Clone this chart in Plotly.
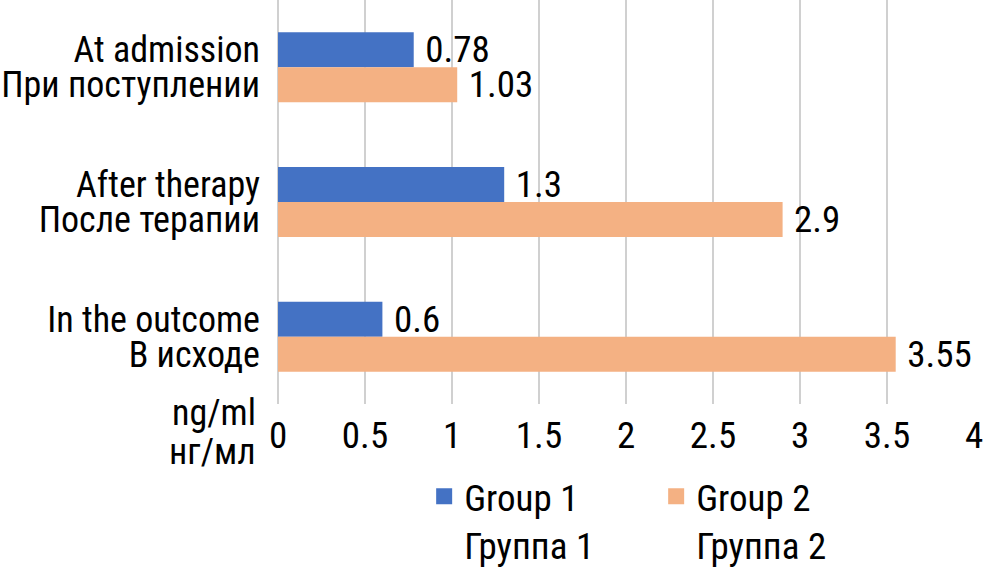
import plotly.graph_objects as go

categories_en = ["At admission", "After therapy", "In the outcome"]
categories_ru = ["При поступлении", "После терапии", "В исходе"]
group1_values = [0.78, 1.3, 0.6]
group2_values = [1.03, 2.9, 3.55]
series_names = ["Group 1<br>Группа 1", "Group 2<br>Группа 2"]
x_ticks = [0, 0.5, 1, 1.5, 2, 2.5, 3, 3.5, 4]
unit_label = ["ng/ml", "нг/мл"]

FONT = "Roboto Condensed, Roboto, sans-serif"
FS = 37
FS_CAT = 36
BARGAP = 0.48
BLUE = "#4472C4"
ORANGE = "#F4B183"

idx = list(range(len(categories_en)))
half = (1 - BARGAP) / 4  # centre offset of each bar within the group

fig = go.Figure()
for name, vals, col in [(series_names[0], group1_values, BLUE),
                        (series_names[1], group2_values, ORANGE)]:
    fig.add_trace(go.Bar(
        x=vals, y=idx, orientation="h", name=name, showlegend=False,
        marker=dict(color=col, line=dict(width=0)),
        text=vals, texttemplate="\u00a0%{x}", textposition="outside",
        textfont=dict(size=FS, color="black", family=FONT),
        constraintext="none", cliponaxis=False,
    ))
    # legend entry with a larger square swatch
    fig.add_trace(go.Scatter(
        x=[None], y=[None], mode="markers", name=name, showlegend=True,
        marker=dict(symbol="square", size=22, color=col, line=dict(width=0)),
        hoverinfo="skip",
    ))

tickvals = [i - half for i in idx] + [i + half for i in idx]
ticktext = categories_en + categories_ru

fig.update_layout(
    width=985, height=570,
    margin=dict(l=278, r=11, t=0, b=166, autoexpand=False),
    paper_bgcolor="white", plot_bgcolor="white",
    font=dict(family=FONT, size=FS, color="black"),
    barmode="group", bargap=BARGAP, bargroupgap=0,
    xaxis=dict(range=[0, 4], tickvals=x_ticks, showgrid=True,
               gridcolor="#D0D0D0", gridwidth=2, zeroline=True,
               zerolinecolor="#D0D0D0", zerolinewidth=2,
               showline=False, ticks="", tickfont=dict(size=FS),
               ticklabelstandoff=6, automargin=False),
    yaxis=dict(range=[len(idx) - 0.5, -0.5], tickvals=tickvals,
               ticktext=ticktext, showgrid=False, zeroline=False,
               showline=False, ticks="", ticklabelstandoff=17,
               tickfont=dict(size=FS_CAT), automargin=False),
    legend=dict(orientation="h", x=0.21, xanchor="left", y=-0.153,
                yanchor="top", font=dict(size=FS), valign="top",
                entrywidth=187, entrywidthmode="pixels",
                itemsizing="trace"),
    annotations=[
        dict(text=unit_label[0], xref="paper", yref="paper", x=0, y=-0.022,
             xanchor="right", yanchor="middle", xshift=-20, showarrow=False,
             font=dict(size=FS_CAT)),
        dict(text=unit_label[1], xref="paper", yref="paper", x=0, y=-0.119,
             xanchor="right", yanchor="middle", xshift=-20, showarrow=False,
             font=dict(size=FS_CAT)),
    ],
)

fig.write_html("out.html",
               config={"displayModeBar": False},
               post_script="document.body.style.margin='0px';")
